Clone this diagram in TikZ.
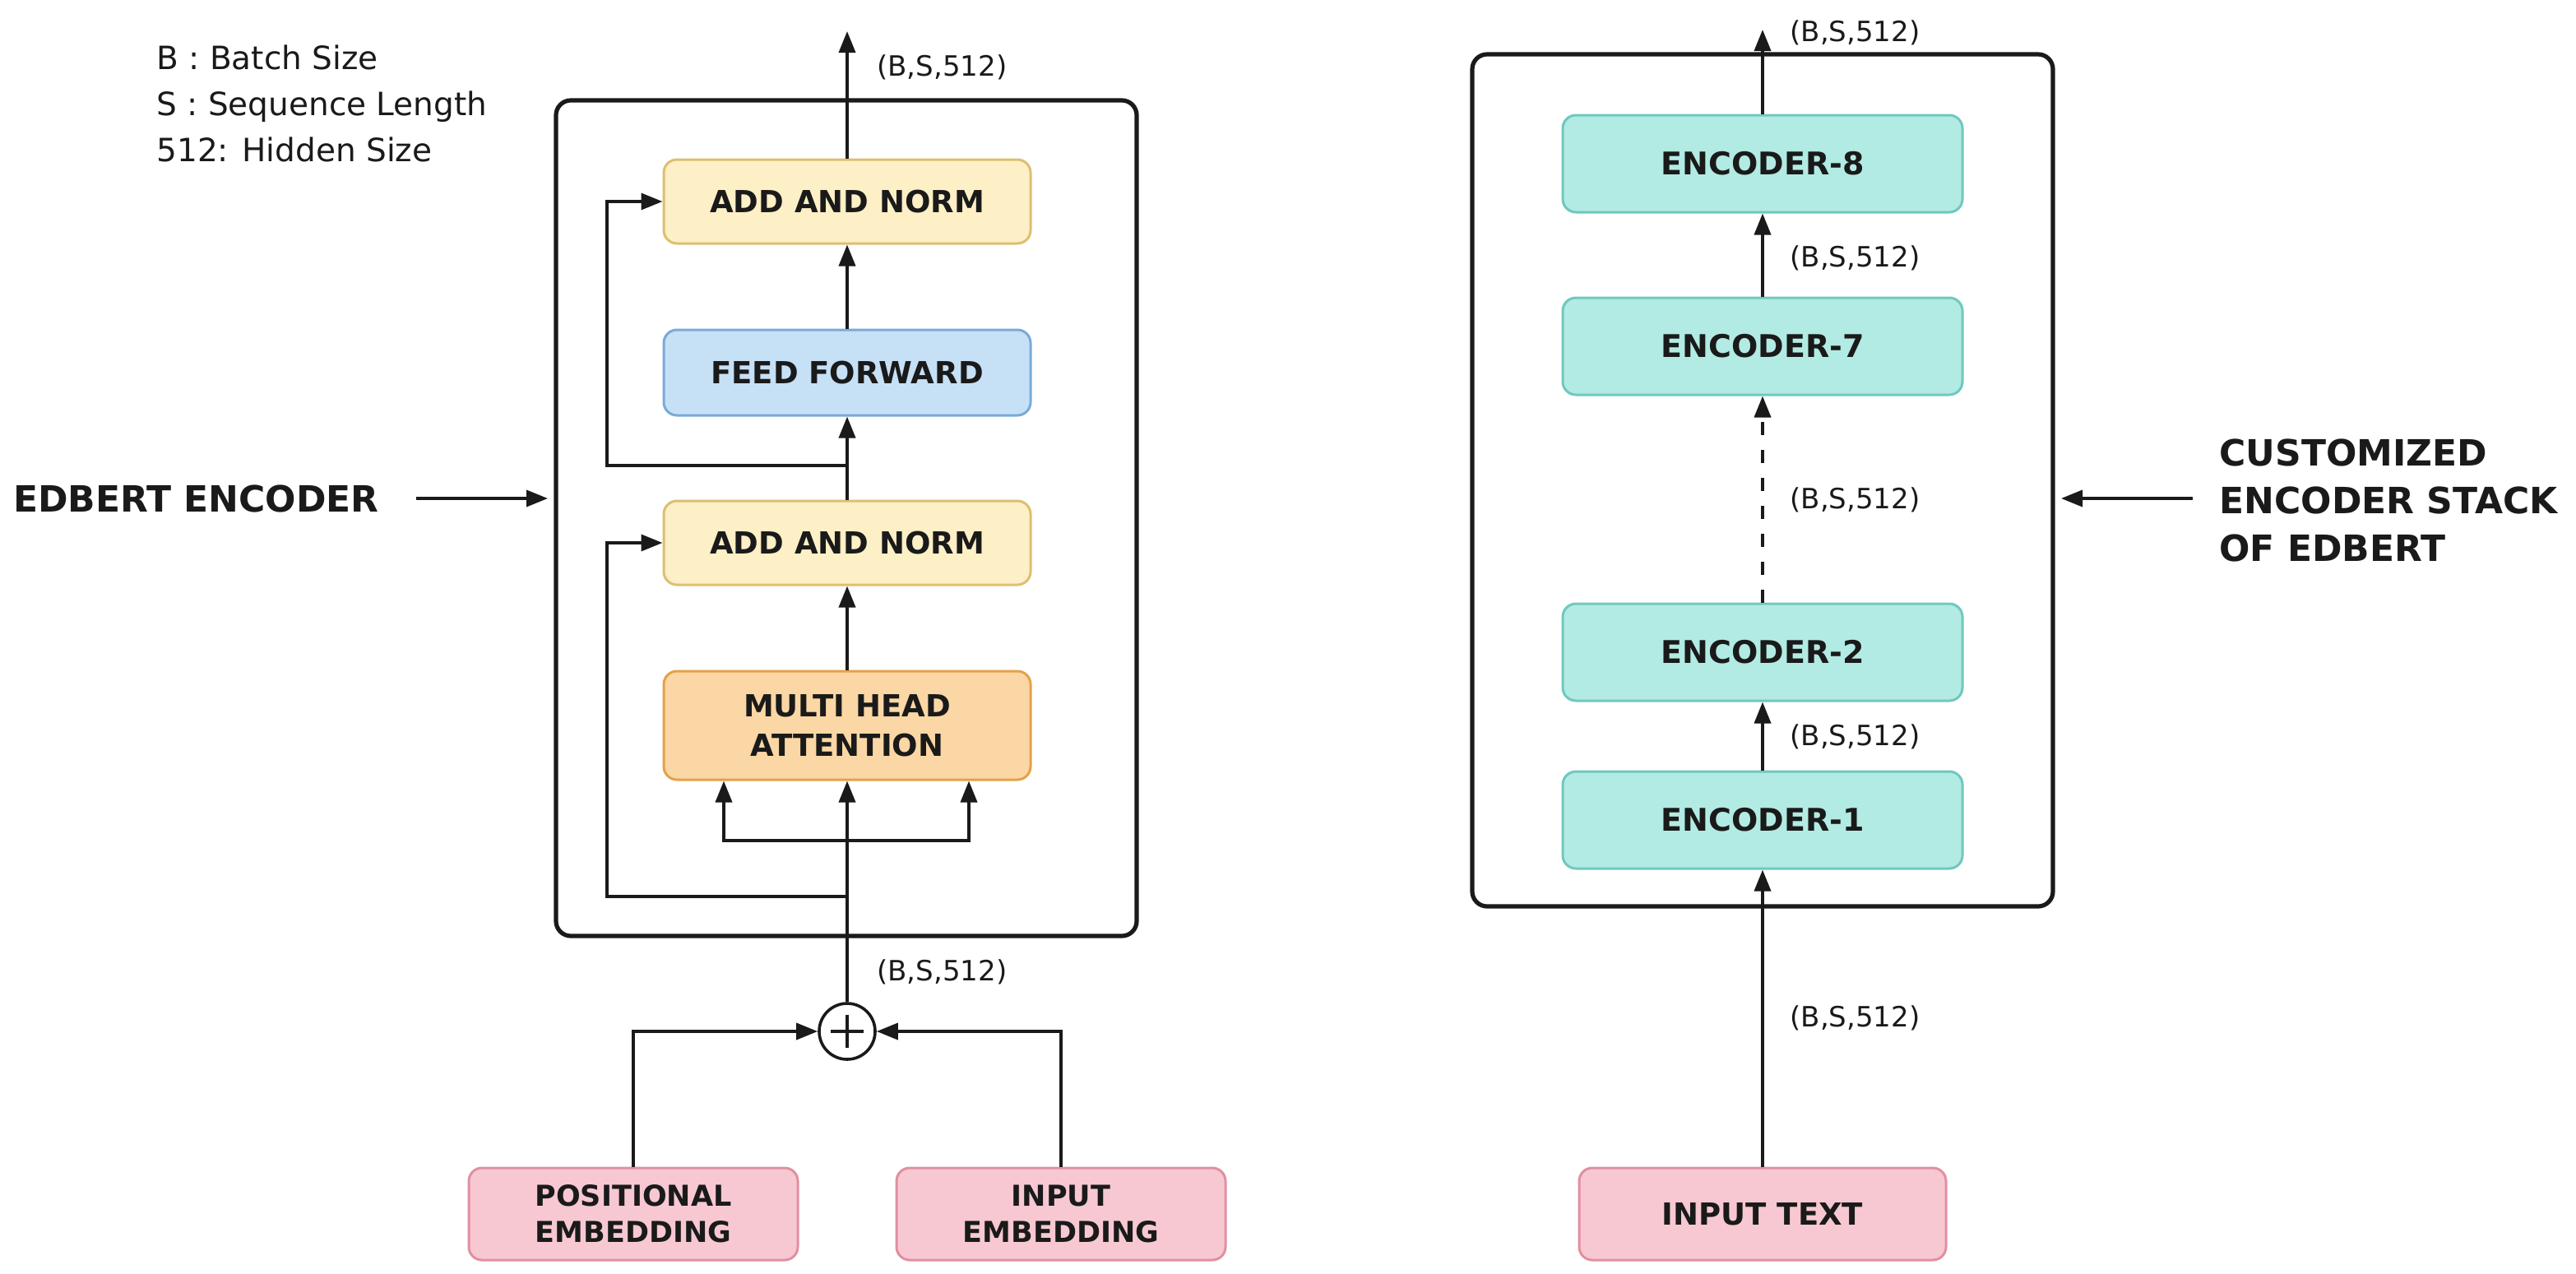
\documentclass[tikz,border=0pt]{standalone}
\usepackage{fontspec}
\setmainfont{DejaVu Sans}
\usetikzlibrary{arrows.meta}
\definecolor{ink}{HTML}{1A1A1A}
\definecolor{yfill}{HTML}{FDEFC6}
\definecolor{ydraw}{HTML}{DDBF70}
\definecolor{bfill}{HTML}{C6E0F6}
\definecolor{bdraw}{HTML}{7AAAD8}
\definecolor{ofill}{HTML}{FAD7A4}
\definecolor{odraw}{HTML}{E3A24A}
\definecolor{pfill}{HTML}{F7C8D2}
\definecolor{pdraw}{HTML}{E090A0}
\definecolor{tfill}{HTML}{B2EBE3}
\definecolor{tdraw}{HTML}{70C8BE}
\begin{document}
\begin{tikzpicture}[x=1pt,y=-1pt,
  box/.style={draw, rounded corners=8pt, line width=1.5pt, text=ink, align=center, inner sep=0pt,
    font=\bfseries\fontsize{18.5}{24}\selectfont},
  ybox/.style={box, fill=yfill, draw=ydraw, minimum width=223pt, minimum height=51pt},
  bbox/.style={box, fill=bfill, draw=bdraw, minimum width=223pt, minimum height=52pt},
  obox/.style={box, fill=ofill, draw=odraw, minimum width=223pt, minimum height=66pt},
  pbox/.style={box, fill=pfill, draw=pdraw, minimum width=200pt, minimum height=56pt,
    font=\bfseries\fontsize{17.5}{22}\selectfont},
  tbox/.style={box, fill=tfill, draw=tdraw, minimum width=243pt, minimum height=59pt,
    font=\bfseries\fontsize{19}{24}\selectfont},
  outer/.style={draw=ink, rounded corners=9pt, line width=2.6pt, inner sep=0pt},
  conn/.style={draw=ink, line width=1.8pt},
  arr/.style={conn, -{Triangle[length=13pt,width=10pt]}},
  dim/.style={font=\fontsize{17}{20}\selectfont, text=ink, anchor=base west, inner sep=0pt},
  legend/.style={font=\fontsize{19.5}{24}\selectfont, text=ink, anchor=base west, inner sep=0pt},
  title/.style={font=\bfseries\fontsize{22}{29}\selectfont, text=ink, anchor=west, inner sep=0pt, align=left},
]
\useasboundingbox (0,0) rectangle (1566,774);

% ---------------- left: EDBERT encoder ----------------
\node[outer, minimum width=353pt, minimum height=508pt] (outerL) at (514.5,315) {};

\node[ybox] (an2) at (515,122.5) {ADD AND NORM};
\node[bbox] (ff)  at (515,226.5) {FEED FORWARD};
\node[ybox] (an1) at (515,330) {ADD AND NORM};
\node[obox] (mha) at (515,441) {MULTI HEAD\\ATTENTION};
\node[pbox] (pos) at (385,738) {POSITIONAL\\EMBEDDING};
\node[pbox] (inp) at (645,738) {INPUT\\EMBEDDING};
\node[circle, draw=ink, line width=1.8pt, minimum size=34pt, inner sep=0pt] (plus) at (515,627) {};
\draw[conn] ([xshift=-10pt]plus.center) -- ([xshift=10pt]plus.center);
\draw[conn] ([yshift=-10pt]plus.center) -- ([yshift=10pt]plus.center);

\coordinate (br) at (515,511);
\coordinate (r1) at (515,545);
\coordinate (r2) at (515,283);
\coordinate (outL) at (515,19);

\draw[arr] (plus.north) -- (mha.south);
\draw[arr] (br) -| ([xshift=-75pt]mha.south);
\draw[arr] (br) -| ([xshift=74pt]mha.south);
\draw[arr] (r1) -- (369,545) |- (an1.west);
\draw[arr] (mha.north) -- (an1.south);
\draw[arr] (an1.north) -- (ff.south);
\draw[arr] (r2) -- (369,283) |- (an2.west);
\draw[arr] (ff.north) -- (an2.south);
\draw[arr] (an2.north) -- (outL);
\draw[arr] (pos.north) |- (plus.west);
\draw[arr] (inp.north) |- (plus.east);

\node[dim] (dL1) at (533,46) {(B,S,512)};
\node[dim] (dL2) at (533,596) {(B,S,512)};

\node[legend] (lg1) at (95,42) {B : Batch Size};
\node[legend] (lg2) at (95,70) {S : Sequence Length};
\node[legend] (lg3) at (95,98) {512: Hidden Size};

\node[title] (tL) at (8,303) {EDBERT ENCODER};
\coordinate (ea1) at (253,303);
\coordinate (ea2) at (333,303);
\draw[arr] (ea1) -- (ea2);

% ---------------- right: encoder stack ----------------
\node[outer, minimum width=353pt, minimum height=518pt] (outerR) at (1071.5,292) {};

\node[tbox] (e8) at (1071.5,99.5) {ENCODER-8};
\node[tbox] (e7) at (1071.5,210.5) {ENCODER-7};
\node[tbox] (e2) at (1071.5,396.5) {ENCODER-2};
\node[tbox] (e1) at (1071.5,498.5) {ENCODER-1};
\node[pbox, minimum width=223pt, font=\bfseries\fontsize{18.5}{24}\selectfont] (it) at (1071.5,738) {INPUT TEXT};
\coordinate (outR) at (1071.5,18);

\draw[arr] (it.north) -- (e1.south);
\draw[arr] (e1.north) -- (e2.south);
\draw[arr, dash pattern=on 8pt off 9pt] (e2.north) -- (e7.south);
\draw[arr] (e7.north) -- (e8.south);
\draw[arr] (e8.north) -- (outR);

\node[dim] (dR1) at (1088,25) {(B,S,512)};
\node[dim] (dR2) at (1088,162) {(B,S,512)};
\node[dim] (dR3) at (1088,309) {(B,S,512)};
\node[dim] (dR4) at (1088,453) {(B,S,512)};
\node[dim] (dR5) at (1088,624) {(B,S,512)};

\node[title] (tR) at (1349,304) {CUSTOMIZED\\ENCODER STACK\\OF EDBERT};
\coordinate (ca1) at (1333,303);
\coordinate (ca2) at (1253,303);
\draw[arr] (ca1) -- (ca2);
\end{tikzpicture}
\end{document}
